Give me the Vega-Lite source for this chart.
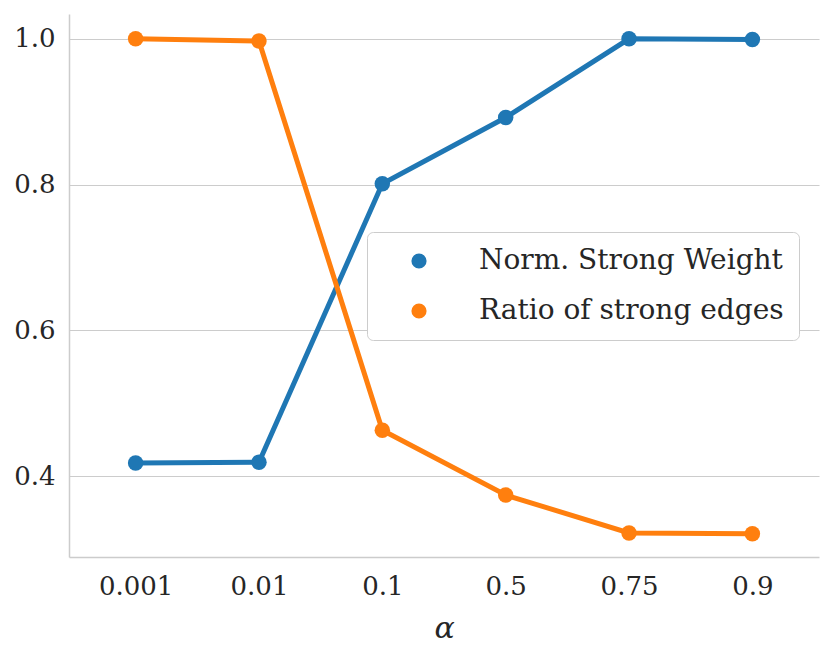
{
  "$schema": "https://vega.github.io/schema/vega-lite/v6.json",
  "width": 750,
  "height": 543,
  "autosize": {"type": "none"},
  "padding": {"left": 69, "top": 14, "right": 11, "bottom": 99},
  "background": "white",
  "config": {
    "view": {"stroke": null},
    "font": "DejaVu Serif",
    "axis": {"labelFont": "DejaVu Serif", "titleFont": "DejaVu Serif", "labelColor": "#262626", "titleColor": "#262626"},
    "legend": {"labelFont": "DejaVu Serif"}
  },
  "data": {
    "values": [
      {"alpha": "0.001", "series": "Norm. Strong Weight", "value": 0.418},
      {"alpha": "0.01", "series": "Norm. Strong Weight", "value": 0.419},
      {"alpha": "0.1", "series": "Norm. Strong Weight", "value": 0.801},
      {"alpha": "0.5", "series": "Norm. Strong Weight", "value": 0.892},
      {"alpha": "0.75", "series": "Norm. Strong Weight", "value": 1.0},
      {"alpha": "0.9", "series": "Norm. Strong Weight", "value": 0.999},
      {"alpha": "0.001", "series": "Ratio of strong edges", "value": 1.0},
      {"alpha": "0.01", "series": "Ratio of strong edges", "value": 0.997},
      {"alpha": "0.1", "series": "Ratio of strong edges", "value": 0.463},
      {"alpha": "0.5", "series": "Ratio of strong edges", "value": 0.374},
      {"alpha": "0.75", "series": "Ratio of strong edges", "value": 0.322},
      {"alpha": "0.9", "series": "Ratio of strong edges", "value": 0.321}
    ]
  },
  "encoding": {
    "x": {
      "field": "alpha", "type": "ordinal",
      "sort": ["0.001", "0.01", "0.1", "0.5", "0.75", "0.9"],
      "scale": {"type": "point", "padding": 0.54},
      "axis": {
        "title": "α", "titleFontSize": 30, "titleFontStyle": "italic", "titleFontWeight": "normal", "titlePadding": 14,
        "labelFontSize": 26, "labelAngle": 0, "labelPadding": 16,
        "ticks": false, "domainColor": "#cccccc", "domainWidth": 1.5, "grid": false
      }
    },
    "y": {
      "field": "value", "type": "quantitative",
      "scale": {"domain": [0.289, 1.034], "nice": false, "zero": false},
      "axis": {
        "title": null, "values": [0.4, 0.6, 0.8, 1.0], "format": ".1f",
        "labelFontSize": 26, "labelPadding": 14, "ticks": false,
        "domainColor": "#cccccc", "domainWidth": 1.5,
        "grid": true, "gridColor": "#cccccc", "gridWidth": 1.2
      }
    },
    "color": {
      "field": "series", "type": "nominal",
      "scale": {"domain": ["Norm. Strong Weight", "Ratio of strong edges"], "range": ["#1f77b4", "#ff7f0e"]},
      "legend": {
        "title": null, "orient": "none", "legendX": 298, "legendY": 218,
        "fillColor": "white", "strokeColor": "#cccccc", "cornerRadius": 6, "padding": 15,
        "symbolType": "circle", "symbolSize": 230, "symbolOffset": 23, "symbolOpacity": 1,
        "symbolStrokeWidth": 0,
        "labelFontSize": 28, "labelColor": "#262626", "labelOffset": 46,
        "rowPadding": 22, "labelLimit": 500
      }
    }
  },
  "layer": [
    {
      "mark": {"type": "line", "strokeWidth": 5}
    },
    {
      "mark": {"type": "point", "filled": true, "opacity": 1, "size": 240}
    }
  ]
}
